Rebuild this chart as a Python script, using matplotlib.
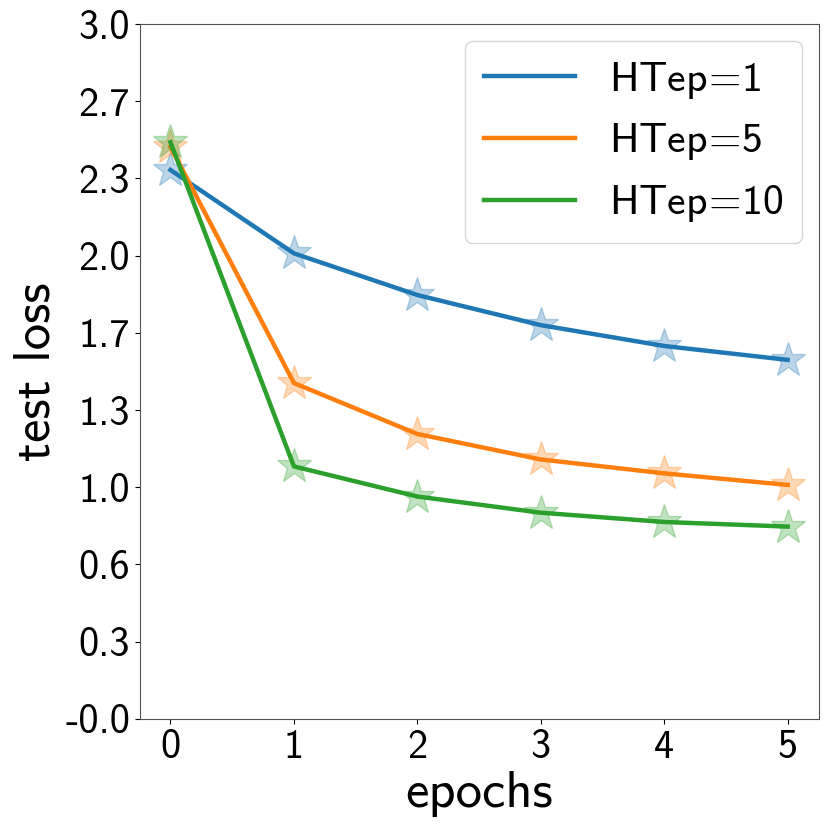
import numpy as np
import matplotlib
matplotlib.use("Agg")
import matplotlib.pyplot as plt

plt.rcParams['font.family'] = ['cmss10', 'DejaVu Sans']
plt.rcParams['mathtext.fontset'] = 'cm'
plt.rcParams['axes.unicode_minus'] = False

epochs = [0, 1, 2, 3, 4, 5]
loss_ht1 = [2.37, 2.01, 1.83, 1.70, 1.61, 1.55]
loss_ht5 = [2.47, 1.45, 1.23, 1.12, 1.06, 1.01]
loss_ht10 = [2.49, 1.09, 0.96, 0.89, 0.85, 0.83]
labels = [r"HTep$\!=\!$1", r"HTep$\!=\!$5", r"HTep$\!=\!$10"]
ytick_labels = ["-0.0", "0.3", "0.6", "1.0", "1.3", "1.7", "2.0", "2.3", "2.7", "3.0"]

colors = ["#1f77b4", "#ff7f0e", "#2ca02c"]

fig, ax = plt.subplots(figsize=(8.31, 8.31), dpi=100)
fig.subplots_adjust(left=0.168, right=0.985, top=0.971, bottom=0.135)

for y, lab, c in zip([loss_ht1, loss_ht5, loss_ht10], labels, colors):
    ax.plot(epochs, y, color=c, lw=3.2, label=lab)
    ax.plot(epochs, y, linestyle='none', marker='*', ms=26, color=c, alpha=0.3)

ax.set_ylim(0, 3)
ax.set_yticks(np.linspace(0, 3, len(ytick_labels)))
ax.set_yticklabels(ytick_labels)
ax.set_xticks(epochs)
ax.tick_params(labelsize=29)
for s in ax.spines.values():
    s.set_color('#555555')

ax.set_xlabel("epochs", fontsize=38)
ax.set_ylabel("test loss", fontsize=38)
ax.legend(loc='upper right', fontsize=30, handlelength=2.2, handletextpad=0.8,
          borderpad=0.45, labelspacing=0.5, borderaxespad=0.4)

fig.savefig("out.png")
